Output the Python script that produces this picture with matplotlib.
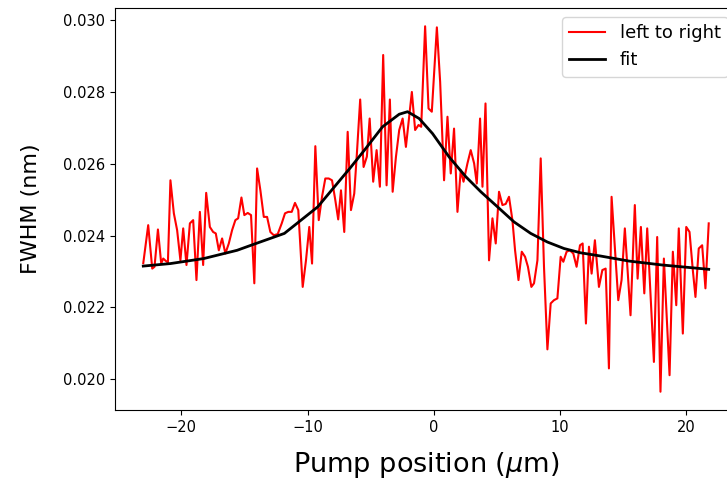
import numpy as np
import matplotlib
matplotlib.use("Agg")
import matplotlib.pyplot as plt

# pump position (um) and measured FWHM (pm -> scaled to nm below), left to right scan
pos = [-23.00, -22.61, -22.29, -22.11, -21.84, -21.58, -21.42, -21.24, -21.05, -20.85,
       -20.58, -20.32, -20.06, -19.84, -19.58, -19.31, -19.05, -18.79, -18.52, -18.26,
       -18.02, -17.73, -17.47, -17.26, -17.02, -16.76, -16.50, -16.23, -15.97, -15.71,
       -15.49, -15.23, -15.00, -14.73, -14.47, -14.21, -13.99, -13.73, -13.46, -13.20,
       -12.94, -12.67, -12.36, -12.04, -11.78, -11.52, -11.25, -10.99, -10.73, -10.38,
       -10.12, -9.86, -9.64, -9.38, -9.11, -8.85, -8.59, -8.32, -8.06, -7.80,
       -7.57, -7.35, -7.09, -6.82, -6.56, -6.30, -6.09, -5.83, -5.56, -5.30,
       -5.08, -4.80, -4.53, -4.27, -4.01, -3.74, -3.48, -3.26, -3.00, -2.74,
       -2.47, -2.21, -1.95, -1.74, -1.48, -1.21, -1.00, -0.69, -0.42, -0.16,
       0.24, 0.50, 0.81, 1.08, 1.34, 1.60, 1.87, 2.13, 2.35, 2.66,
       2.92, 3.19, 3.40, 3.66, 3.85, 4.09, 4.37, 4.64, 4.90, 5.16,
       5.43, 5.69, 5.95, 6.22, 6.43, 6.70, 6.96, 7.22, 7.45, 7.72,
       7.93, 8.20, 8.46, 8.72, 8.99, 9.25, 9.51, 9.78, 10.04, 10.25,
       10.51, 10.77, 11.04, 11.30, 11.57, 11.78, 12.04, 12.28, 12.49, 12.75,
       13.07, 13.34, 13.60, 13.86, 14.07, 14.33, 14.60, 14.86, 15.12, 15.57,
       15.91, 16.13, 16.39, 16.66, 16.89, 17.42, 17.68, 17.94, 18.21, 18.66,
       18.92, 19.19, 19.39, 19.71, 19.98, 20.24, 20.50, 20.71, 20.97, 21.24,
       21.50, 21.76]
fwhm_pm = [23.23, 24.29, 23.08, 23.13, 24.17, 23.22, 23.36, 23.30, 23.25, 25.54,
           24.62, 24.15, 23.31, 24.20, 23.18, 24.34, 24.43, 22.76, 24.66, 23.18,
           25.19, 24.24, 24.10, 24.06, 23.59, 23.92, 23.50, 23.78, 24.15, 24.43,
           24.48, 25.06, 24.57, 24.63, 24.57, 22.67, 25.87, 25.26, 24.52, 24.52,
           24.10, 24.01, 24.04, 24.34, 24.62, 24.66, 24.66, 24.91, 24.71, 22.57,
           23.31, 24.24, 23.22, 26.49, 24.43, 25.08, 25.59, 25.59, 25.54, 24.99,
           24.45, 25.26, 24.10, 26.89, 24.71, 25.17, 26.29, 27.79, 25.91, 26.20,
           27.26, 25.50, 26.38, 25.36, 29.03, 25.40, 27.79, 25.22, 26.19, 26.94,
           27.26, 26.47, 27.31, 28.00, 26.94, 27.08, 27.03, 29.83, 27.54, 27.45,
           29.80, 28.28, 25.54, 27.31, 25.73, 26.98, 24.66, 25.82, 25.50, 26.01,
           26.38, 26.01, 25.45, 27.26, 25.36, 27.68, 23.31, 24.48, 23.78, 25.22,
           24.85, 24.88, 25.08, 24.43, 23.59, 22.76, 23.55, 23.41, 23.13, 22.57,
           22.67, 23.31, 26.15, 23.13, 20.83, 22.11, 22.20, 22.25, 23.41, 23.27,
           23.55, 23.59, 23.50, 23.13, 23.73, 23.78, 21.55, 23.69, 22.94, 23.87,
           22.57, 23.04, 23.08, 20.30, 25.08, 23.69, 22.20, 22.76, 24.20, 21.78,
           24.85, 22.80, 24.24, 22.39, 24.20, 20.48, 23.96, 19.65, 23.36, 20.11,
           23.55, 22.06, 24.20, 21.27, 24.24, 24.10, 23.04, 22.29, 23.64, 23.73,
           22.53, 24.34]

# fitted curve
fit_pos = [-23.00, -20.85, -18.21, -15.57, -14.47, -11.83, -9.19, -6.56, -5.38, -4.06,
           -2.74, -2.08, -1.16, -0.10, 1.21, 2.53, 3.72, 5.04, 6.35, 7.67,
           8.99, 10.30, 11.62, 13.20, 15.44, 18.08, 21.76]
fit_pm = [23.15, 23.22, 23.36, 23.59, 23.73, 24.06, 24.80, 25.91, 26.43, 27.03,
          27.38, 27.45, 27.26, 26.84, 26.19, 25.64, 25.22, 24.80, 24.38, 24.06,
          23.82, 23.64, 23.52, 23.43, 23.29, 23.18, 23.06]

fwhm = np.array(fwhm_pm) / 1000.0
fit = np.array(fit_pm) / 1000.0

fig = plt.figure(figsize=(7.27, 4.83), dpi=100)
# axes runs past the right edge, as in the cropped original
ax = fig.add_axes([115 / 727, 73 / 483, 622 / 727, 402 / 483])
ax.plot(pos, fwhm, color='red', lw=1.5, label='left to right')
ax.plot(fit_pos, fit, color='black', lw=2, label='fit', solid_joinstyle='round')
ax.set_xlabel(r'Pump position ($\mu$m)', fontsize=19.5, labelpad=11)
ax.set_ylabel('FWHM (nm)', fontsize=16, labelpad=16)
ax.set_xticks([-20, -10, 0, 10, 20])
ax.set_yticks([0.020, 0.022, 0.024, 0.026, 0.028, 0.030])
ax.tick_params(labelsize=10.5)
ax.legend(loc='upper right', fontsize=13)

fig.savefig('out.png', dpi=100)
